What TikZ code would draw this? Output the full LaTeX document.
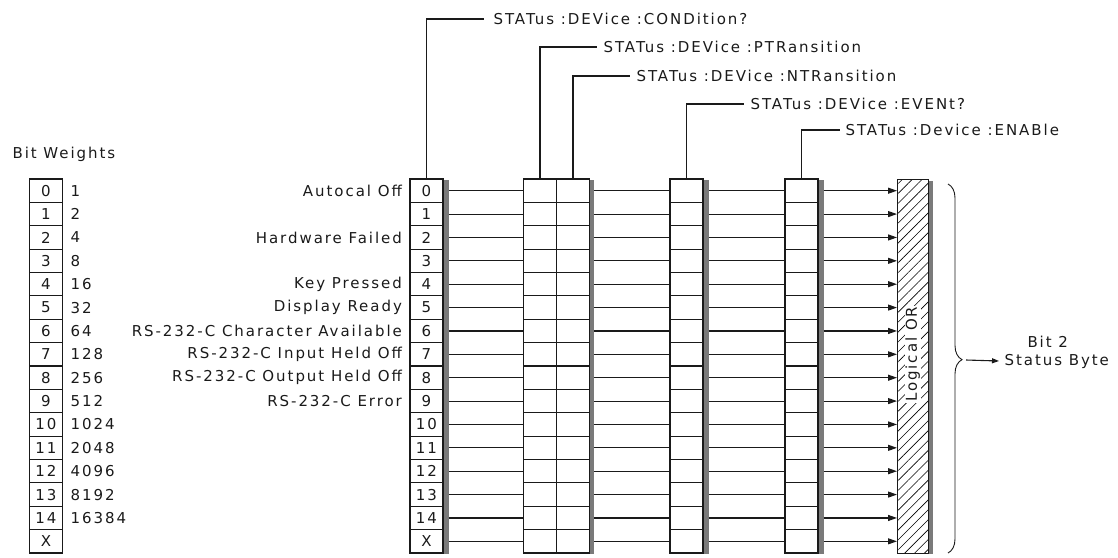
\documentclass[tikz,border=0pt]{standalone}
\usepackage{fontspec}
\newfontfamily\plotfont{DejaVu Sans}[LetterSpace=13]
\usetikzlibrary{positioning,arrows.meta,patterns.meta,decorations.pathreplacing}
\definecolor{InkGray}{HTML}{1A1A1A}
\definecolor{ShadeGray}{HTML}{7A7A7A}

\begin{document}
\begin{tikzpicture}[x=1pt,y=-1pt,color=InkGray,
  font=\plotfont\fontsize{15}{17}\selectfont,
  line width=1.1pt,
  cell/.style={draw,minimum width=33pt,minimum height=23.375pt,inner sep=0pt},
  shade/.style={fill=ShadeGray,draw=none},
  lbl/.style={anchor=west,inner sep=0pt},
  feed/.style={-{Triangle[length=9pt,width=6pt]}}]
  \useasboundingbox (0,0) rectangle (1118,557);

  % bit weights table
  \node[lbl] (bwtitle) at (12,154) {Bit Weights};
  \foreach \i/\t/\w in {0/0/1,1/1/2,2/2/4,3/3/8,4/4/16,5/5/32,6/6/64,7/7/128,
      8/8/256,9/9/512,10/10/1024,11/11/2048,12/12/4096,13/13/8192,14/14/16384,15/X/{}}{
    \node[cell] (bw-\i) at (46,190.7+23.375*\i) {\t};
    \node[right=7pt of bw-\i,inner sep=0pt] (wt-\i) {\w};
    % registers
    \node[cell] (cond-\i) at (426.5,190.7+23.375*\i) {\t};
    \node[cell] (ptr-\i) at (540,190.7+23.375*\i) {};
    \node[cell] (ntr-\i) at (573,190.7+23.375*\i) {};
    \node[cell] (evt-\i) at (686.5,190.7+23.375*\i) {};
    \node[cell] (ena-\i) at (801.5,190.7+23.375*\i) {};
  }

  % shadows
  \fill[shade] ([yshift=-2pt]cond-0.north east) rectangle ([xshift=5pt]cond-15.south east);
  \fill[shade] ([yshift=-2pt]ntr-0.north east) rectangle ([xshift=4pt]ntr-15.south east);
  \fill[shade] ([yshift=-2pt]evt-0.north east) rectangle ([xshift=5pt]evt-15.south east);
  \fill[shade] ([yshift=-2pt]ena-0.north east) rectangle ([xshift=5pt]ena-15.south east);

  % logical OR
  \node[draw,anchor=north west,minimum width=31pt,minimum height=374pt,
    pattern={Lines[angle=45,distance=7pt,line width=0.6pt]}] (orbox) at (897,179) {};
  \fill[shade] ([yshift=-2pt]orbox.north east) rectangle ([xshift=4pt]orbox.south east);
  \node[rotate=90,fill=white,inner sep=1pt] (ortext) at (orbox.center |- cond-7) {Logical OR};

  % bit names
  \foreach \i/\t in {0/Autocal Off,2/Hardware Failed,4/Key Pressed,5/Display Ready,
      6/RS-232-C Character Available,7/RS-232-C Input Held Off,
      8/RS-232-C Output Held Off,9/RS-232-C Error}
    \node[left=7pt of cond-\i,inner sep=0pt] {\t};

  % connections
  \foreach \i in {0,...,15}{
    \draw ([xshift=5pt]cond-\i.east) -- (ptr-\i.west);
    \draw ([xshift=4pt]ntr-\i.east) -- (evt-\i.west);
    \draw ([xshift=5pt]evt-\i.east) -- (ena-\i.west);
    \draw[feed] ([xshift=5pt]ena-\i.east) -- (ena-\i.east -| orbox.west);
  }

  % commands
  \node[lbl] (condlbl) at (493,19) {STATus :DEVice :CONDition?};
  \node[lbl] (ptrlbl) at (603,47) {STATus :DEVice :PTRansition};
  \node[lbl] (ntrlbl) at (636,76) {STATus :DEVice :NTRansition};
  \node[lbl] (evtlbl) at (750,104) {STATus :DEVice :EVENt?};
  \node[lbl] (enalbl) at (845,130) {STATus :Device :ENABle};
  \draw (cond-0.north) |- ([xshift=-9pt]condlbl.west);
  \draw (ptr-0.north) |- ([xshift=-6pt]ptrlbl.west);
  \draw (ntr-0.north) |- ([xshift=-6pt]ntrlbl.west);
  \draw (evt-0.north) |- ([xshift=-6pt]evtlbl.west);
  \draw (ena-0.north) |- ([xshift=-5pt]enalbl.west);

  % status byte
  \coordinate (bracetop) at (948,184);
  \coordinate (bracebot) at (948,553);
  \coordinate (bracetip) at (963,360);
  \draw[decorate,decoration={brace,amplitude=14pt,aspect=0.476},line width=0.9pt] (bracetop) -- (bracebot);
  \node[lbl] (status) at (1004,361) {Status Byte};
  \node[above=5pt of status,xshift=-9pt,inner sep=0pt] (bit) {Bit 2};
  \draw[-{Triangle[length=7pt,width=5pt]}] ([xshift=3pt]bracetip) -- ([xshift=-5pt]status.west);
\end{tikzpicture}
\end{document}
